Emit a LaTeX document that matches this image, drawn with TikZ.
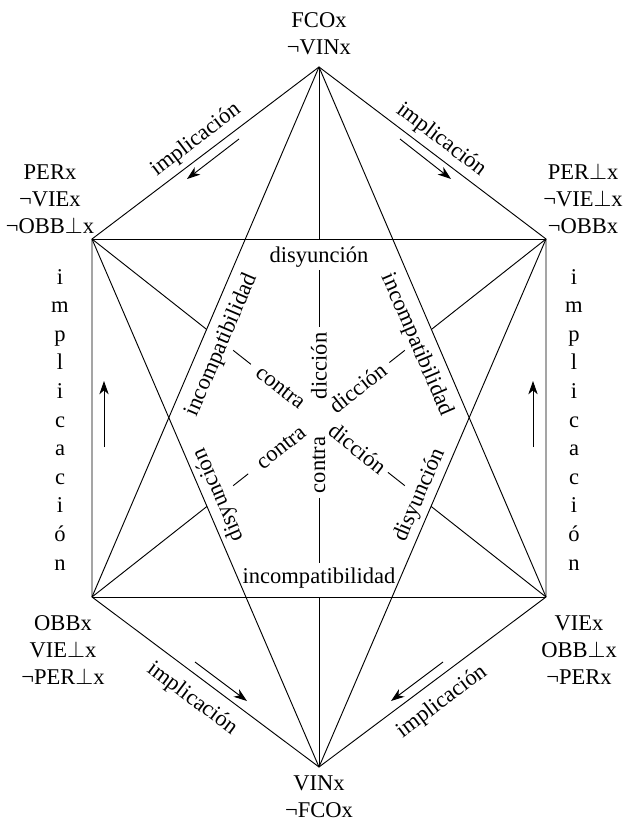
\documentclass[tikz,border=0pt]{standalone}
\usepackage{fontspec}
\setmainfont{Liberation Serif}
\usetikzlibrary{arrows.meta,calc}

\tikzset{
  lbl/.style={inner sep=0.75pt, font=\fontsize{16.9}{20.25}\selectfont},
  corner/.style={lbl, align=center},
  edge/.style={line width=0.7pt},
  impl/.style={line width=0.7pt, -{Stealth[length=10pt,width=7pt,inset=3pt]}},
}

\begin{document}
\begin{tikzpicture}[x=0.75pt,y=0.75pt,yscale=-1,xscale=1]
	\useasboundingbox (0,0) rectangle (624,823);
	
	% corners of the hexagon
	\coordinate (T) at (319,67);
	\coordinate (UL) at (92,239);
	\coordinate (UR) at (546,239);
	\coordinate (LL) at (92,597);
	\coordinate (LR) at (546,597);
	\coordinate (B) at (319,767);
	
	%Hexagon
	\draw [edge] (T) -- (UL) -- (LL) -- (B) -- (LR) -- (UR) -- cycle ;
	%Straight Lines
	\draw [edge] (UL) -- (UR) ;
	\draw [edge] (LL) -- (LR) ;
	\draw [edge] (T) -- (LL) ;
	\draw [edge] (T) -- (LR) ;
	\draw [edge] (B) -- (UL) ;
	\draw [edge] (B) -- (UR) ;
	%Straight Lines (vertical axis, broken by the labels)
	\draw [edge] (T) -- (T |- UL) ;
	\draw [edge] ($(T)!0.29!(B)$) -- ($(T)!0.371!(B)$) ;
	\draw [edge] ($(T)!0.6157!(B)$) -- ($(T)!0.7086!(B)$) ;
	\draw [edge] (B |- LL) -- (B) ;
	%Straight Lines (diagonal UL to LR)
	\draw [edge] (UL) -- (intersection of UL--LR and T--LL) ;
	\draw [edge] ($(UL)!0.311!(LR)$) -- ($(UL)!0.35!(LR)$) ;
	\draw [edge] ($(UL)!0.652!(LR)$) -- ($(UL)!0.689!(LR)$) ;
	\draw [edge] (intersection of UL--LR and B--UR) -- (LR) ;
	%Straight Lines (diagonal UR to LL)
	\draw [edge] (UR) -- (intersection of UR--LL and T--LR) ;
	\draw [edge] ($(UR)!0.311!(LL)$) -- ($(UR)!0.345!(LL)$) ;
	\draw [edge] ($(UR)!0.656!(LL)$) -- ($(UR)!0.689!(LL)$) ;
	\draw [edge] (intersection of UR--LL and B--UL) -- (LL) ;
	
	% arrows of implication
	\coordinate (aTL1) at (239,139); \coordinate (aTL2) at (187,179);
	\coordinate (aTR1) at (400,139); \coordinate (aTR2) at (451,179);
	\coordinate (aBL1) at (195,662); \coordinate (aBL2) at (247,701);
	\coordinate (aBR1) at (443,662); \coordinate (aBR2) at (391,701);
	\coordinate (aL1) at (104,447); \coordinate (aL2) at (104,381);
	\coordinate (aR1) at (533,447); \coordinate (aR2) at (533,381);
	\draw [impl] (aTL1) -- (aTL2) ;
	\draw [impl] (aTR1) -- (aTR2) ;
	\draw [impl] (aBL1) -- (aBL2) ;
	\draw [impl] (aBR1) -- (aBR2) ;
	\draw [impl] (aL1) -- (aL2) ;
	\draw [impl] (aR1) -- (aR2) ;
	
	% Text Node
	\node [corner] (labT) at (319,34) {FCOx\\¬VINx};
	% Text Node
	\node [corner] (labUL) at (50,199) {PERx\\¬VIEx\\¬OBB$\bot$x};
	% Text Node
	\node [corner] (labUR) at (583,199) {PER$\bot$x\\¬VIE$\bot$x\\¬OBBx};
	% Text Node
	\node [corner] (labLL) at (63,650) {OBBx\\VIE$\bot$x\\¬PER$\bot$x};
	% Text Node
	\node [corner] (labLR) at (579,650) {VIEx\\OBB$\bot$x\\¬PERx};
	% Text Node
	\node [corner] (labB) at (319,797) {VINx\\¬FCOx};
	
	% Text Node
	\node [lbl, rotate=37.2] (implTL) at (196,140) {implicación};
	\node [lbl, rotate=-37.2] (implTR) at (441,140) {implicación};
	\node [lbl, rotate=-36.8] (implBL) at (192,699) {implicación};
	\node [lbl, rotate=36.8] (implBR) at (442,702) {implicación};
	\foreach \ch [count=\k] in {i,m,p,l,i,c,a,c,i,ó,n} {
		\node [lbl, anchor=base] (implL\k) at (60,284+28.6*\k-28.6) {\ch};
		\node [lbl, anchor=base] (implR\k) at (574,284+28.6*\k-28.6) {\ch};
	}
	
	% Text Node
	\node [lbl] (disyTop) at (319,257) {disyunción};
	\node [lbl] (incompBot) at (319,578) {incompatibilidad};
	\node [lbl, rotate=66.8] (incompL) at (222,345) {incompatibilidad};
	\node [lbl, rotate=-66.8] (incompR) at (417,345) {incompatibilidad};
	\node [lbl, rotate=113.3] (disyL) at (219,495) {disyunción};
	\node [lbl, rotate=66.7] (disyR) at (420,495) {disyunción};
	
	% Text Node
	\node [lbl, rotate=90] (diccV) at ($(T)!0.427!(B)$) {dicción};
	\node [lbl, rotate=90] (contraV) at ($(T)!0.5686!(B)$) {contra};
	\node [lbl, rotate=-38.3] (contraUL) at ($(UL)!0.415!(LR)$) {contra};
	\node [lbl, rotate=-38.3] (diccLR) at ($(UL)!0.585!(LR)$) {dicción};
	\node [lbl, rotate=38.3] (diccUR) at ($(UR)!0.415!(LL)$) {dicción};
	\node [lbl, rotate=38.3] (contraLL) at ($(UR)!0.583!(LL)$) {contra};
	
\end{tikzpicture}
\end{document}
